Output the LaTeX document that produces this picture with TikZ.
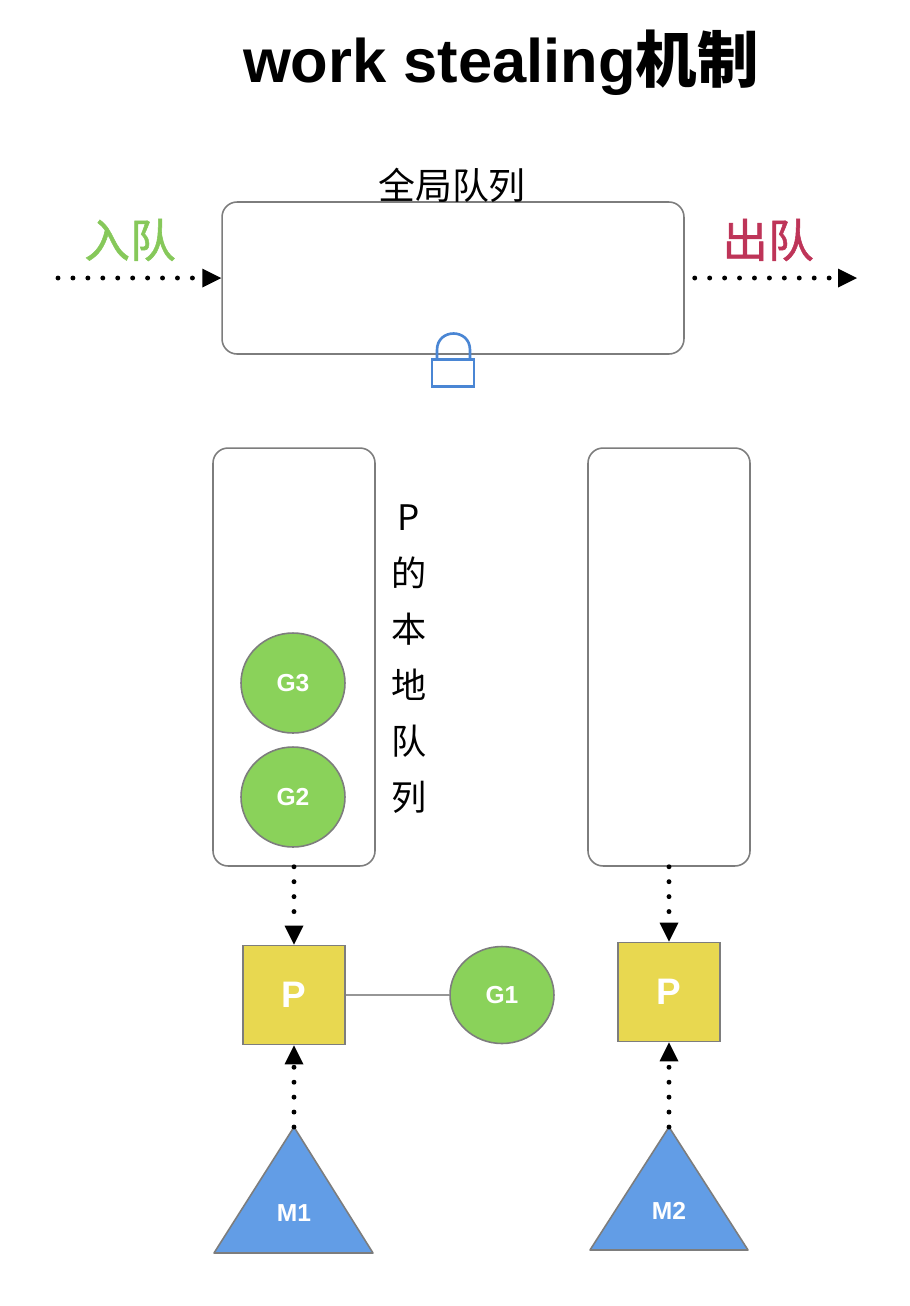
\documentclass[tikz,border=0pt]{standalone}
\usepackage{fontspec}
\setmainfont{Liberation Sans}
\newfontfamily\cjk{Noto Sans CJK SC}
\newfontfamily\cjkmed[FakeBold=1.2]{Noto Sans CJK SC}
\usetikzlibrary{arrows.meta,shapes.geometric}
\definecolor{boxgray}{RGB}{125,125,125}
\definecolor{linegray}{RGB}{150,150,150}
\definecolor{gfill}{RGB}{138,210,90}
\definecolor{pfill}{RGB}{232,216,80}
\definecolor{mfill}{RGB}{98,157,230}
\definecolor{lockblue}{RGB}{74,134,212}
\definecolor{ingreen}{RGB}{134,200,90}
\definecolor{outred}{RGB}{190,52,88}
\begin{document}
\begin{tikzpicture}[x=0.02cm, y=-0.02cm,
    queue/.style={draw=boxgray, line width=0.9pt, rounded corners=0.3cm, fill=white},
    gnode/.style={ellipse, draw=boxgray, line width=0.9pt, fill=gfill, minimum width=2.08cm, minimum height=2cm, inner sep=0pt, text=white, font=\fontsize{14}{14}\selectfont\bfseries},
    pnode/.style={rectangle, draw=boxgray, line width=0.9pt, fill=pfill, minimum width=2.04cm, minimum height=1.98cm, text=white, font=\fontsize{21}{21}\selectfont\bfseries},
    mtri/.style={draw=boxgray, line width=0.9pt, fill=mfill, line join=round},
    mlabel/.style={text=white, font=\fontsize{14}{14}\selectfont\bfseries},
    dotarrow/.style={line width=2.8pt, line cap=round, dash pattern=on 0pt off 8.5pt, -{Triangle[length=0.38cm,width=0.38cm,line width=0pt]}},
    cjklabel/.style={font=\cjk\fontsize{#1}{#1}\selectfont}]
        \useasboundingbox (0,0) rectangle (910,1306);

        \node[anchor=base] (title) at (501,82) {\fontsize{35}{35}\selectfont\bfseries work stealing{\cjk\bfseries 机制}};

        \node[queue, minimum width=9.24cm, minimum height=3.04cm] (gq) at (453,278) {};
        \node[cjklabel=21] (gqlabel) at (452,185) {全局队列};

        \node[font=\cjkmed\fontsize{26}{26}\selectfont, text=ingreen] (inlabel) at (130,240) {入队};
        \node[font=\cjkmed\fontsize{26}{26}\selectfont, text=outred] (outlabel) at (768,240) {出队};
        \coordinate (instart) at (58,278);
        \coordinate (outend) at (857,278);
        \draw[dotarrow] (instart) -- (gq.west);
        \draw[dotarrow, shorten <=0.2cm] (gq.east) -- (outend);

        \node[draw=lockblue, line width=1.5pt, fill=white, minimum width=0.84cm, minimum height=0.54cm, inner sep=0pt] (lock) at (453,373) {};
        \draw[lockblue, line width=1.5pt] (437,359) -- (437,350) .. controls (437,328) and (470,328) .. (470,350) -- (470,359);

        \node[queue, minimum width=3.24cm, minimum height=8.36cm] (lq) at (294,657) {};
        \node[queue, minimum width=3.24cm, minimum height=8.36cm] (rq) at (669,657) {};
        \node[align=center, font=\cjk\fontsize{20}{31.8}\selectfont] (lqlabel) at (409,659) {P\\的\\本\\地\\队\\列};

        \node[gnode] (g3) at (293,683) {G3};
        \node[gnode] (g2) at (293,797) {G2};

        \node[pnode] (pl) at (294,995) {P};
        \node[pnode] (pr) at (669,992) {P};
        \node[gnode, minimum height=1.94cm] (g1) at (502,995) {G1};
        \draw[linegray, line width=0.9pt] (pl) -- (g1);

        \draw[dotarrow] (lq.south -| pl) -- (pl.north);
        \draw[dotarrow] (rq.south -| pr) -- (pr.north);

        \draw[mtri] (294,1127) coordinate (m1top) -- (373,1253) -- (214,1253) -- cycle;
        \node[mlabel] (m1) at (294,1213) {M1};
        \draw[mtri] (669,1127) coordinate (m2top) -- (748,1250) -- (590,1250) -- cycle;
        \node[mlabel] (m2) at (669,1211) {M2};

        \draw[dotarrow] (m1top) -- (pl.south);
        \draw[dotarrow] (m2top) -- (pr.south);

    \end{tikzpicture}
\end{document}
